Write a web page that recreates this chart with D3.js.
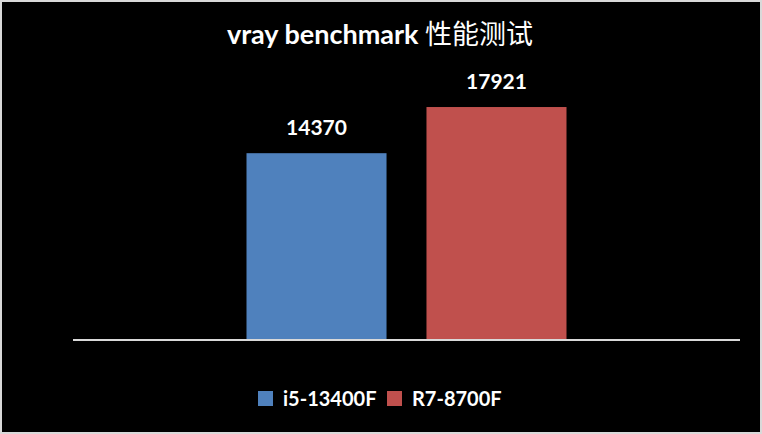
<html>
<script src="https://d3js.org/d3.v7.js"></script>
<body style="margin:0;background:#000;">
<svg id="chart" width="762" height="434"></svg>
<script>
    // data
    let categories = ["i5-13400F", "R7-8700F"];
    let scores = [14370, 17921];
    let colors = ["#4F81BD", "#C0504D"];
    let title = "vray benchmark ";
    let titleCn = "性能测试";

    let width = 762, height = 434;
    let svg = d3.select("#chart");

    svg.append("rect")
        .attr("x", 1).attr("y", 1)
        .attr("width", width - 2).attr("height", height - 2)
        .attr("fill", "#000")
        .attr("stroke", "#d9d9d9")
        .attr("stroke-width", 2);

    let x = d3.scaleBand()
        .domain(categories)
        .range([73, 740])
        .paddingInner(0.222)
        .paddingOuter(0.964);

    let y = d3.scaleLinear()
        .domain([0, 20000])
        .range([340, 80]);

    svg.selectAll(".bar")
        .data(scores)
        .join("rect")
        .attr("class", "bar")
        .attr("x", (d, i) => x(categories[i]))
        .attr("y", d => y(d))
        .attr("width", x.bandwidth())
        .attr("height", d => y(0) - y(d))
        .attr("fill", (d, i) => colors[i]);

    // baseline
    svg.append("line")
        .attr("x1", 73).attr("x2", 740)
        .attr("y1", y(0)).attr("y2", y(0))
        .attr("stroke", "#d9d9d9")
        .attr("stroke-width", 2);

    svg.selectAll(".val")
        .data(scores)
        .join("text")
        .attr("class", "val")
        .attr("x", (d, i) => x(categories[i]) + x.bandwidth() / 2)
        .attr("y", d => y(d) - 18)
        .attr("text-anchor", "middle")
        .attr("fill", "#fff")
        .style("font-family", "Lato, 'Open Sans', sans-serif")
        .style("font-weight", "bold")
        .style("font-size", "21px")
        .text(d => d);

    let t = svg.append("text")
        .attr("x", 380).attr("y", 44)
        .attr("text-anchor", "middle")
        .attr("fill", "#fff")
        .style("font-size", "27px");
    t.append("tspan")
        .style("font-family", "Lato, 'Open Sans', sans-serif")
        .style("font-weight", "bold")
        .text(title);
    t.append("tspan")
        .style("font-family", "'Noto Sans CJK SC', sans-serif")
        .text(titleCn);

    // legend
    let legendX = [258, 387];
    let lg = svg.selectAll(".lg")
        .data(categories)
        .join("g")
        .attr("class", "lg")
        .attr("transform", (d, i) => `translate(${legendX[i]},391)`);
    lg.append("rect")
        .attr("width", 15).attr("height", 15)
        .attr("fill", (d, i) => colors[i]);
    lg.append("text")
        .attr("x", 25).attr("y", 15)
        .attr("fill", "#fff")
        .style("font-family", "Lato, 'Open Sans', sans-serif")
        .style("font-weight", "bold")
        .style("font-size", "20px")
        .text(d => d);
</script>
</body>
</html>
